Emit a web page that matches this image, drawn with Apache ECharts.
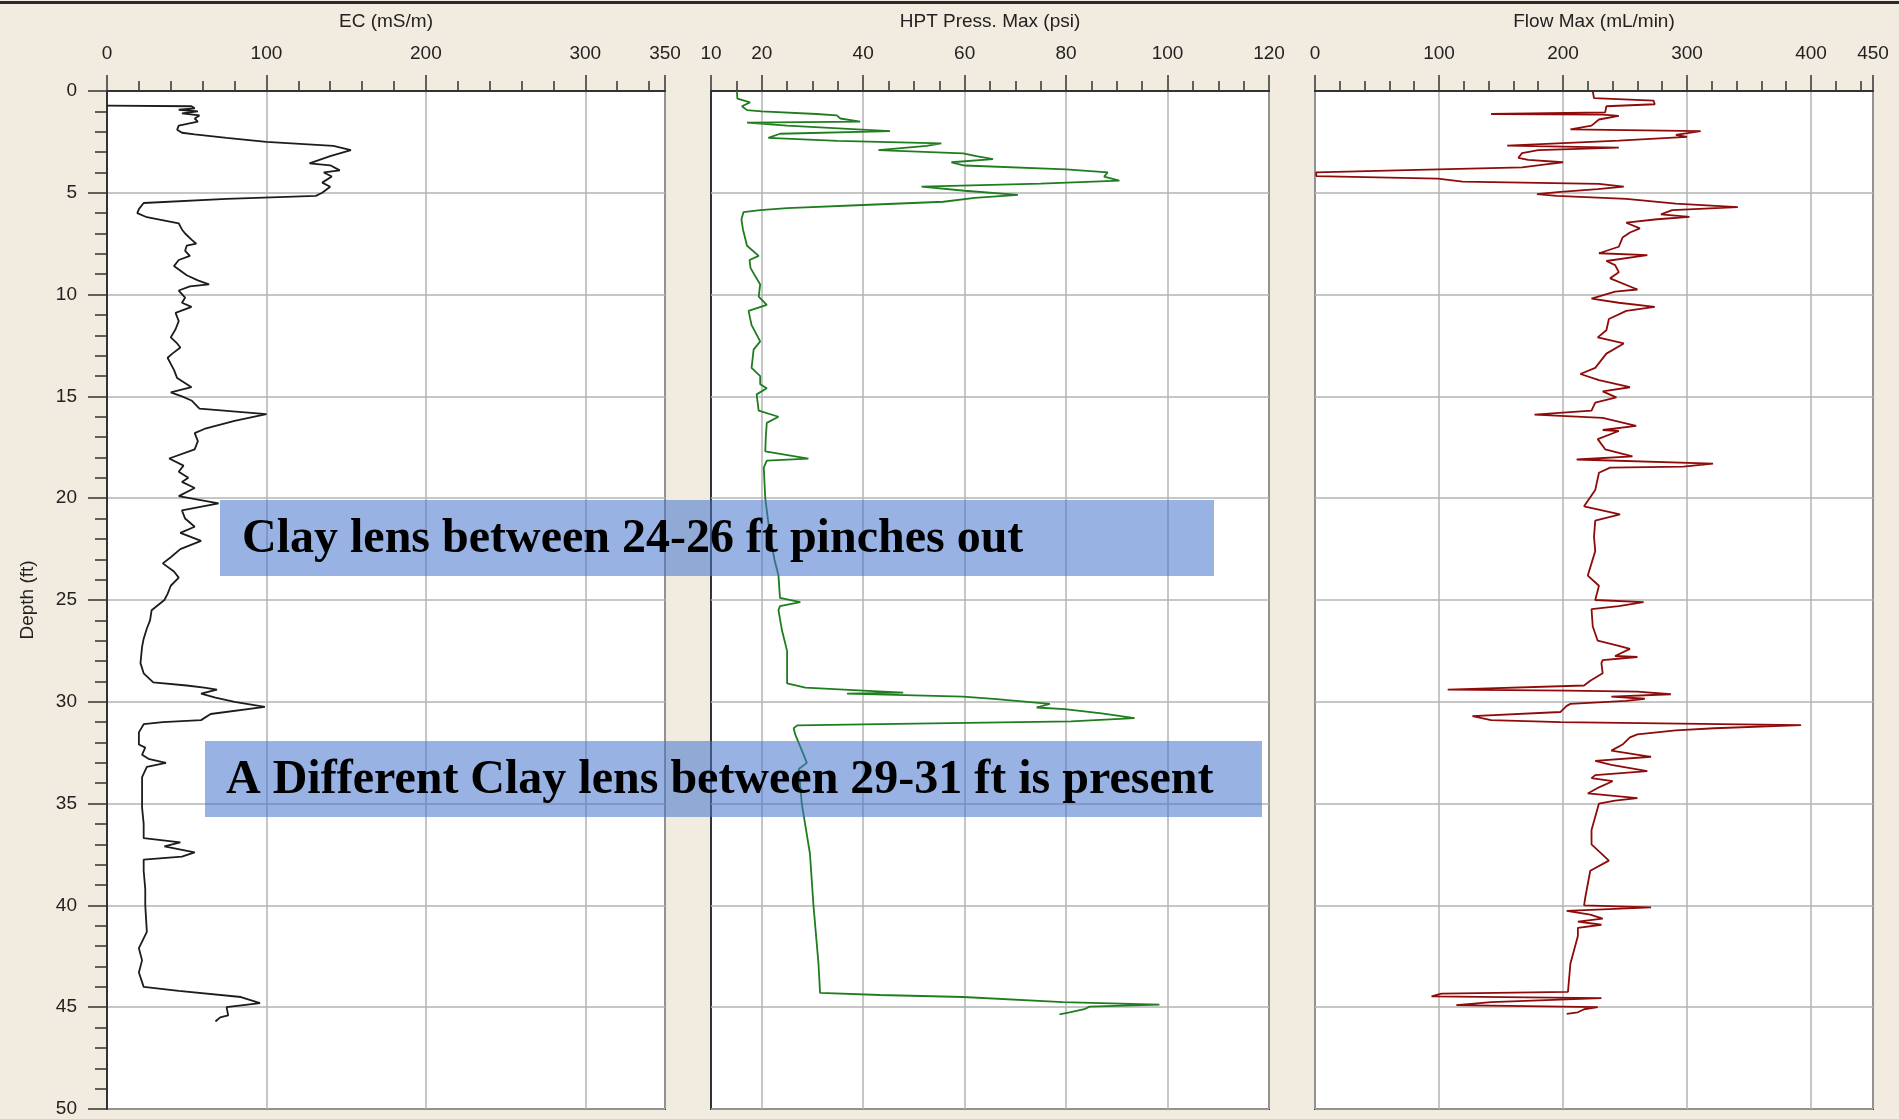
<!DOCTYPE html>
<html>
<head>
<meta charset="utf-8">
<title>HPT log</title>
<script src="https://cdn.jsdelivr.net/npm/echarts@6/dist/echarts.min.js"></script>
<style>
  html, body { margin: 0; padding: 0; background: #F2EBDF; }
  #chart { width: 1899px; height: 1119px; }
</style>
</head>
<body>
<div id="chart"></div>
<script>
// ---- Log data: depth (ft) and reading pairs ----
const ecDepth = [0.72,0.75,0.85,0.92,1.0,1.1,1.2,1.35,1.5,1.7,1.9,2.05,2.13,2.3,2.5,2.7,2.9,3.2,3.55,3.65,3.9,4.0,4.2,4.5,4.7,5.0,5.15,5.3,5.5,5.8,6.0,6.2,6.5,6.8,7.0,7.3,7.5,7.6,7.85,8.1,8.3,8.6,9.05,9.3,9.5,9.6,9.8,10.15,10.4,10.6,10.9,11.3,11.7,12.1,12.4,12.6,12.9,13.1,13.4,13.7,14.1,14.55,14.8,15.0,15.2,15.6,15.87,16.2,16.6,16.8,17.2,17.6,18.05,18.4,18.7,19.0,19.2,19.5,19.9,20.25,20.6,21.0,21.4,21.7,22.1,22.5,22.9,23.2,23.6,23.9,24.3,24.7,25.0,25.5,26.0,26.4,26.9,27.3,28.1,28.6,29.05,29.2,29.3,29.4,29.6,29.8,30.0,30.25,30.6,30.9,31.0,31.1,31.5,32.1,32.25,32.6,32.8,33.0,33.2,33.7,34.5,35.2,36.0,36.7,36.9,37.1,37.4,37.6,37.75,38.3,39.2,40.0,41.3,42.1,42.7,43.3,44.0,44.2,44.5,44.8,45.0,45.4,45.5,45.7];
const ecValue = [0,53,55,45,57,47,58,55,57,45,44,47,55,75,100,142,153,140,127,140,146,136,141,135,140,135,131,75,23,20,19,25,45,47,49,53,56,50,49,52,45,42,50,57,64,52,45,49,47,53,43,45,43,40,44,46,41,38,40,42,44,53,40,47,53,58,100,80,61,55,57,55,39,48,45,51,47,55,45,70,47,49,55,46,59,46,40,35,42,45,40,38,36,28,27,25,23,22,21,23,29,50,61,69,59,68,80,99,65,59,35,23,20,20,24,22,26,37,25,22,22,22,23,23,46,36,55,47,23,23,24,24,25,20,22,20,23,45,84,96,75,76,71,68];

const hptDepth = [0.0,0.38,0.56,0.75,0.94,1.0,1.13,1.2,1.35,1.5,1.55,1.7,1.97,2.1,2.3,2.45,2.57,2.7,2.9,3.06,3.2,3.35,3.5,3.66,3.85,4.0,4.2,4.4,4.55,4.7,4.9,5.1,5.25,5.44,5.6,5.75,5.85,5.95,6.3,6.8,7.6,8.1,8.3,8.7,9.5,10.1,10.5,10.8,11.5,12.3,12.7,13.6,14.0,14.4,14.6,14.9,15.7,16.0,16.3,17.0,17.7,18.06,18.15,18.5,20.0,21.0,21.9,23.0,23.8,24.9,25.1,25.3,25.5,26.5,27.5,28.6,29.1,29.3,29.45,29.55,29.6,29.75,29.87,30.1,30.28,30.36,30.57,30.8,30.96,31.1,31.16,31.3,31.6,32.2,33.0,33.3,35.0,37.45,40.0,42.9,44.3,44.4,44.5,44.75,44.87,44.97,45.1,45.25,45.35];
const hptValue = [15.1,15.2,17.7,16.1,17.1,20,30.8,34.8,35.5,39.4,17.1,25,45.3,23.6,21.3,35,55.4,52.5,43,59.7,62.3,65.6,57.4,60,80,88.2,87.5,90.5,75,51.5,60,70.5,62,55.8,40,25,19.7,16.4,16,16.3,17.1,19.4,17.6,17.8,19.7,19.4,21,17.4,18,19.7,18.4,18,19.7,19.7,21,19,19.4,23.3,21,20.8,20.7,29.2,21,20.4,20.7,21.2,21.7,22.5,23.3,23.6,27.6,23.6,23.3,24,25,25,25,28.6,40,47.9,36.8,59.7,66.3,76.8,74.2,79.7,87,93.5,81,43.3,27,26.3,26.6,27.6,28.9,27.3,27.9,29.5,30.2,31.2,31.5,43.3,59.7,79.4,98.4,84.6,83.6,80.7,78.7];

const flowDepth = [0.0,0.35,0.47,0.65,0.75,1.05,1.13,1.16,1.22,1.4,1.7,1.88,1.97,2.15,2.25,2.44,2.68,2.78,2.9,3.05,3.28,3.38,3.5,3.6,3.75,3.85,4.0,4.18,4.3,4.45,4.56,4.7,4.82,4.95,5.06,5.15,5.3,5.53,5.7,5.85,6.06,6.18,6.3,6.47,6.75,6.95,7.2,7.65,7.97,8.06,8.35,8.55,8.9,9.2,9.75,9.85,10.2,10.4,10.6,10.8,11.2,11.75,12.1,12.4,12.9,13.6,13.9,14.2,14.55,14.75,15.05,15.3,15.7,15.9,16.05,16.45,16.65,16.7,17.1,17.6,17.95,18.1,18.3,18.45,18.5,18.75,19.6,20.4,20.8,21.1,21.9,22.6,23.8,24.3,25.0,25.1,25.3,25.45,26.3,27.0,27.25,27.4,27.75,27.8,27.95,28.1,28.6,28.97,29.2,29.4,29.45,29.5,29.63,29.75,29.85,29.95,30.1,30.2,30.5,30.7,30.9,31.0,31.15,31.3,31.4,31.6,31.75,32.1,32.4,32.7,32.9,33.1,33.4,33.6,33.75,33.9,34.2,34.5,34.73,34.85,35.0,36.3,37.0,37.8,38.3,39.6,40.0,40.1,40.27,40.45,40.65,40.8,40.95,41.1,41.5,42.85,44.25,44.33,44.47,44.55,44.75,44.9,45.0,45.1,45.25,45.33];
const flowValue = [224,225,273,274,235,234,142,232,245,229,223,206,311,291,300,245,155,245,180,167,164,172,200,186,167,99,1,1,99,119,229,249,228,198,179,195,251,291,341,288,279,302,276,251,262,254,248,245,229,268,235,242,245,238,260,242,223,245,274,251,237,235,228,249,235,226,214,229,254,232,243,226,223,177,232,259,232,245,228,234,256,211,321,297,238,229,226,217,246,226,225,226,220,229,226,265,245,223,224,228,245,254,242,260,232,231,232,222,217,107,204,260,287,239,266,251,206,203,198,127,142,198,392,322,291,260,254,248,239,271,226,239,268,226,223,240,229,220,260,242,229,223,223,237,222,218,217,271,203,222,232,212,231,212,212,206,204,102,94,231,142,114,228,217,212,203];

// ---- Axis ranges and labelled ticks ----
const ecTicks = [0, 100, 200, 300, 350];
const hptTicks = [10, 20, 40, 60, 80, 100, 120];
const flowTicks = [0, 100, 200, 300, 400, 450];
const depthRange = [0, 50];

const panelTitles = ['EC (mS/m)', 'HPT Press. Max (psi)', 'Flow Max (mL/min)'];
const notes = ['Clay lens between 24-26 ft pinches out', 'A Different Clay lens between 29-31 ft is present'];

function pairs(values, depths) {
  return values.map((v, i) => [v, depths[i]]);
}

const FONT = '"Liberation Sans", Arial, sans-serif';
const TXT = '#222';
const GRIDC = '#b3b3b3';
const panelLeft = [107, 711, 1315];
const panelTop = 91, panelW = 558, panelH = 1018;

const grids = panelLeft.map(l => ({
  left: l, top: panelTop, width: panelW, height: panelH,
  show: true, backgroundColor: '#ffffff', borderColor: '#333', borderWidth: 2
}));

// Each panel: a fine tick axis (minor ticks) plus a labelled axis (major ticks, labels, title)
function fineAxis(grid, min, max, step, split) {
  return {
    type: 'value', gridIndex: grid, position: 'top', min: min, max: max, interval: step,
    axisLine: { show: true, lineStyle: { color: '#333', width: 2 } },
    axisTick: { show: true, length: 10, lineStyle: { color: '#333', width: 1.5 } },
    axisLabel: { show: false },
    splitLine: split || { show: false }
  };
}
function labelAxis(grid, min, max, ticks, title, extra) {
  return Object.assign({
    type: 'value', gridIndex: grid, position: 'top', min: min, max: max,
    name: title, nameLocation: 'middle', nameGap: 60,
    nameTextStyle: { color: TXT, fontFamily: FONT, fontSize: 19 },
    axisLine: { show: true, lineStyle: { color: '#333', width: 2 } },
    axisTick: { show: true, length: 16, lineStyle: { color: '#333', width: 1.5 } },
    axisLabel: {
      show: true, margin: 28, color: TXT, fontFamily: FONT, fontSize: 19,
      showMinLabel: true, showMaxLabel: true,
      formatter: v => (ticks.indexOf(v) >= 0 ? String(v) : '')
    },
    splitLine: { show: false }
  }, extra || {});
}

const xAxes = [
  fineAxis(0, 0, 350, 20),
  labelAxis(0, 0, 350, ecTicks, panelTitles[0], {
    interval: 100,
    splitLine: { show: true, lineStyle: { color: GRIDC, width: 1.5 } }
  }),
  fineAxis(1, 10, 120, 5, {
    show: true,
    lineStyle: { color: ['rgba(0,0,0,0)', 'rgba(0,0,0,0)', GRIDC, 'rgba(0,0,0,0)'], width: 1.5 }
  }),
  labelAxis(1, 10, 120, hptTicks, panelTitles[1], {
    interval: 10,
    axisTick: { show: true, length: 16, customValues: hptTicks, lineStyle: { color: '#333', width: 1.5 } }
  }),
  fineAxis(2, 0, 450, 20),
  labelAxis(2, 0, 450, flowTicks, panelTitles[2], {
    interval: 100,
    splitLine: { show: true, lineStyle: { color: GRIDC, width: 1.5 } }
  })
];
// HPT labels placed at the listed values only
xAxes[3].axisLabel.customValues = hptTicks;

const yAxes = [0, 1, 2].map(g => ({
  type: 'value', gridIndex: g, inverse: true, min: depthRange[0], max: depthRange[1], interval: 5,
  name: g === 0 ? 'Depth (ft)' : '', nameLocation: 'middle', nameGap: 70,
  nameTextStyle: { color: TXT, fontFamily: FONT, fontSize: 19 },
  axisLine: { show: g === 0, lineStyle: { color: '#333', width: 2 } },
  axisTick: { show: g === 0, length: 19, lineStyle: { color: '#333', width: 1.5 } },
  minorTick: { show: g === 0, splitNumber: 5, length: 12, lineStyle: { color: '#333', width: 1.5 } },
  axisLabel: { show: g === 0, margin: 30, color: TXT, fontFamily: FONT, fontSize: 19 },
  splitLine: { show: true, lineStyle: { color: GRIDC, width: 1.5 } }
}));

function trace(name, data, xi, yi, color) {
  return {
    name: name, type: 'line', xAxisIndex: xi, yAxisIndex: yi, data: data,
    showSymbol: false, symbol: 'none', smooth: false, animation: false,
    lineStyle: { color: color, width: 1.8 }, z: 3
  };
}

const noteBoxes = [
  { x: 220, y: 500, w: 994, h: 76, text: notes[0], tx: 242 },
  { x: 205, y: 741, w: 1057, h: 76, text: notes[1], tx: 226 }
];
const graphics = [
  { type: 'rect', left: 0, top: 1, shape: { width: 1899, height: 3 }, style: { fill: '#2b2b2b' }, z: 100 }
];
noteBoxes.forEach(b => {
  graphics.push({ type: 'rect', x: b.x, y: b.y, shape: { width: b.w, height: b.h },
    style: { fill: 'rgba(66,114,204,0.55)' }, z: 100 });
  graphics.push({ type: 'text', x: b.tx, y: b.y + b.h / 2 + 2, z: 101,
    style: { text: b.text, fill: '#000', font: 'bold 48px "Liberation Serif", "Times New Roman", serif',
      verticalAlign: 'middle', align: 'left' } });
});

const chart = echarts.init(document.getElementById('chart'), null, { renderer: 'canvas' });
chart.setOption({
  backgroundColor: '#F2EBDF',
  animation: false,
  grid: grids,
  xAxis: xAxes,
  yAxis: yAxes,
  series: [
    trace('EC', pairs(ecValue, ecDepth), 0, 0, '#1c1c1c'),
    trace('HPT Press. Max', pairs(hptValue, hptDepth), 2, 1, '#1f7d1f'),
    trace('Flow Max', pairs(flowValue, flowDepth), 4, 2, '#8e0b0b')
  ],
  graphic: graphics
});
</script>
</body>
</html>
